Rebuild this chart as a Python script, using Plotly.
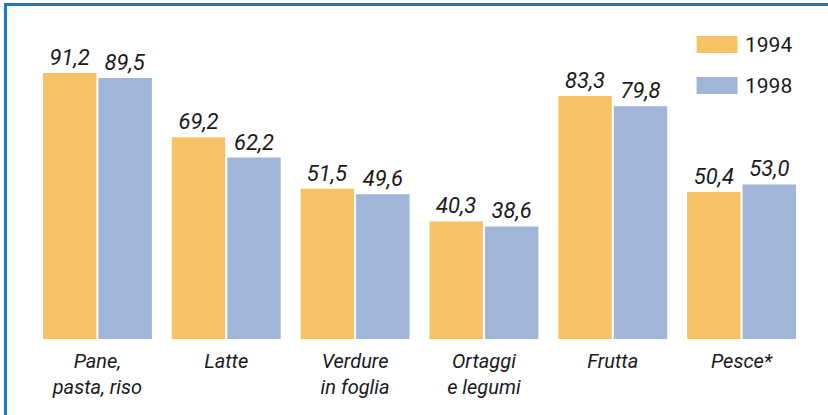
import plotly.graph_objects as go

categorie = ["Pane,<br>pasta, riso", "Latte", "Verdure<br>in foglia",
             "Ortaggi<br>e legumi", "Frutta", "Pesce*"]
anni = ["1994", "1998"]
valori_1994 = [91.2, 69.2, 51.5, 40.3, 83.3, 50.4]
valori_1998 = [89.5, 62.2, 49.6, 38.6, 79.8, 53.0]

colori = {"1994": "#F5C266", "1998": "#A0B5D8"}
blu = "#1C78C0"
font_nome = "Roboto, Liberation Sans, sans-serif"


def etichetta(v):  # virgola decimale all'italiana
    return f"{v:.1f}".replace(".", ",")


fig = go.Figure()
for anno, valori in zip(anni, [valori_1994, valori_1998]):
    fig.add_trace(go.Bar(
        x=categorie, y=valori, name=anno,
        marker=dict(color=colori[anno], line=dict(width=0)),
        text=[etichetta(v) for v in valori],
        textposition="outside", cliponaxis=False,
        textfont=dict(family=font_nome, size=22, color="#1a1a1a", style="italic"),
    ))

# legenda disegnata a mano (quadrati larghi come nell'originale)
leg_y = [(0.921, 0.869, 0.895), (0.796, 0.745, 0.770)]
for anno, (y1, y0, yt) in zip(anni, leg_y):
    fig.add_shape(type="rect", xref="paper", yref="paper",
                  x0=0.8585, x1=0.9114, y0=y0, y1=y1,
                  fillcolor=colori[anno], line=dict(width=0))
    fig.add_annotation(xref="paper", yref="paper", x=0.919, y=yt,
                       text=anno, showarrow=False, xanchor="left", yanchor="middle",
                       font=dict(family=font_nome, size=21, color="#1a1a1a"))

# cornice blu (sopra e a sinistra)
fig.add_shape(type="line", xref="paper", yref="paper",
              x0=-0.0375, x1=1.06, y0=1.0167, y1=1.0167,
              line=dict(color=blu, width=3))
fig.add_shape(type="line", xref="paper", yref="paper",
              x0=-0.0356, x1=-0.0356, y0=1.02, y1=-0.24,
              line=dict(color=blu, width=3))

fig.update_layout(
    width=828, height=415,
    margin=dict(l=33, r=21.5, t=10, b=76),
    paper_bgcolor="white", plot_bgcolor="white",
    barmode="group", bargap=0.139, bargroupgap=0.036,
    showlegend=False,
    xaxis=dict(showline=False, ticks="", showgrid=False, ticklabelstandoff=8,
               tickfont=dict(family=font_nome, size=20, color="#1a1a1a", style="italic")),
    yaxis=dict(range=[0, 112.8], visible=False, showgrid=False, zeroline=False),
)

# niente margine del body, così la figura parte da (0, 0)
fig.write_html("out.html", config={"displayModeBar": False},
               post_script="document.body.style.margin='0';")
